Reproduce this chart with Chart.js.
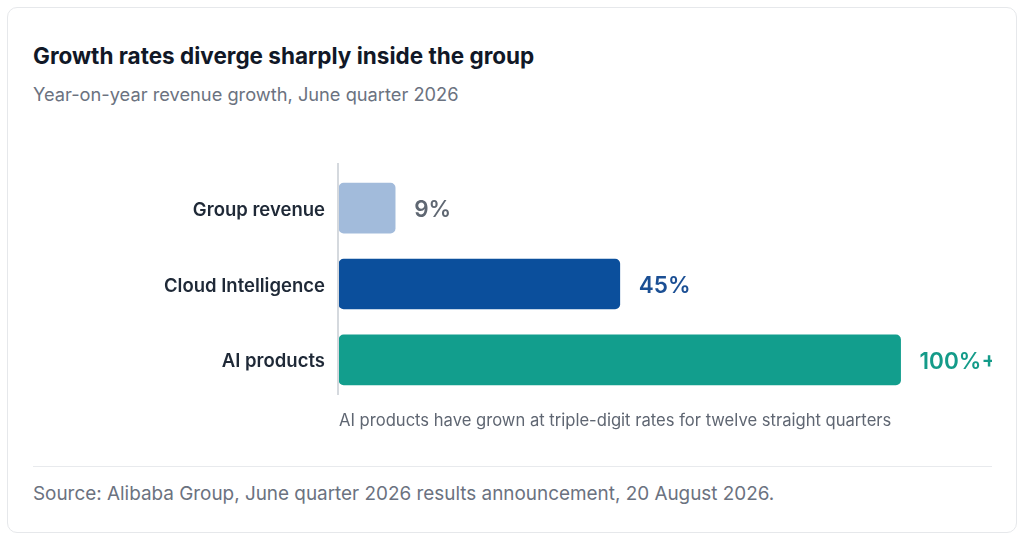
<!DOCTYPE html>
<html>
<head>
<meta charset="utf-8">
<script src="https://cdn.jsdelivr.net/npm/chart.js@4/dist/chart.umd.min.js"></script>
<style>
  html, body { margin: 0; padding: 0; background: #fff; }
  body { width: 1024px; height: 541px; position: relative; font-family: Inter, "Noto Sans", sans-serif; overflow: hidden; }
  .card { position: absolute; left: 7px; top: 7px; width: 1008px; height: 524px; border: 1px solid #e6e8eb; border-radius: 10px; }
  .title { position: absolute; left: 33px; top: 42px; font-size: 22.5px; line-height: 27px; font-weight: 700; color: #111827; white-space: nowrap; }
  .subtitle { position: absolute; left: 33px; top: 83px; font-size: 18.25px; line-height: 22px; color: #6b7280; white-space: nowrap; }
  .chartBox { position: absolute; left: 33px; top: 145px; width: 959px; height: 278px; }
  .note { position: absolute; left: 339px; top: 410px; font-size: 16.6px; line-height: 20px; color: #5f6672; white-space: nowrap; }
  .divider { position: absolute; left: 33px; top: 466px; width: 959px; height: 1px; background: #e8eaed; }
  .source { position: absolute; left: 33px; top: 483px; font-size: 18.9px; line-height: 22px; color: #6b7280; white-space: nowrap; }
</style>
</head>
<body>
<div class="card"></div>
<div class="title">Growth rates diverge sharply inside the group</div>
<div class="subtitle">Year-on-year revenue growth, June quarter 2026</div>
<div class="chartBox"><canvas id="growthChart"></canvas></div>
<div class="note">AI products have grown at triple-digit rates for twelve straight quarters</div>
<div class="divider"></div>
<div class="source">Source: Alibaba Group, June quarter 2026 results announcement, 20 August 2026.</div>

<script>
// values (AI bar is drawn shorter than its "100%+" label)
const categories = ["Group revenue", "Cloud Intelligence", "AI products"]
const growthValues = [9, 45, 90]
const valueLabels = ["9%", "45%", "100%+"]
const barColors = ["#a2bbdb", "#0b4f9c", "#129e8d"]
const labelColors = ["#5f6772", "#1b4f94", "#149b89"]

const axisLine = {
     id: "axisLine",
     afterDatasetsDraw(chart) {
          const ctx = chart.ctx
          const area = chart.chartArea
          ctx.save()
          ctx.strokeStyle = "#d5d9de"
          ctx.lineWidth = 2
          ctx.beginPath()
          ctx.moveTo(area.left - 1, area.top - 7)
          ctx.lineTo(area.left - 1, area.bottom - 3)
          ctx.stroke()
          ctx.restore()
     }
}

const valueText = {
     id: "valueText",
     afterDatasetsDraw(chart) {
          const ctx = chart.ctx
          const meta = chart.getDatasetMeta(0)
          ctx.save()
          ctx.font = "600 22.5px Inter"
          ctx.textBaseline = "middle"
          ctx.textAlign = "left"
          meta.data.forEach(function (bar, i) {
               ctx.fillStyle = labelColors[i]
               ctx.fillText(valueLabels[i], bar.x + 19, bar.y + 2)
          })
          ctx.restore()
     }
}

const growthChart = new Chart(document.getElementById("growthChart"), {
     type: "bar",
     data: {
          labels: categories,
          datasets: [{
               data: growthValues,
               backgroundColor: barColors,
               borderRadius: 5,
               borderSkipped: false,
               barThickness: 50
          }]
     },
     options: {
          indexAxis: "y",
          responsive: true,
          maintainAspectRatio: false,
          animation: false,
          events: [],
          layout: { padding: { top: 0, bottom: 0, right: 29, left: 0 } },
          plugins: {
               legend: { display: false },
               tooltip: { enabled: false }
          },
          scales: {
               x: {
                    display: false,
                    min: 0,
                    max: 100
               },
               y: {
                    grid: { display: false, drawTicks: false },
                    border: { display: false },
                    afterFit(scale) { scale.width = 306 },
                    ticks: {
                         padding: 14,
                         labelOffset: 2,
                         color: "#1f2937",
                         font: { family: "Inter", size: 18.5, weight: "600" }
                    }
               }
          }
     },
     plugins: [axisLine, valueText]
})
</script>
</body>
</html>
